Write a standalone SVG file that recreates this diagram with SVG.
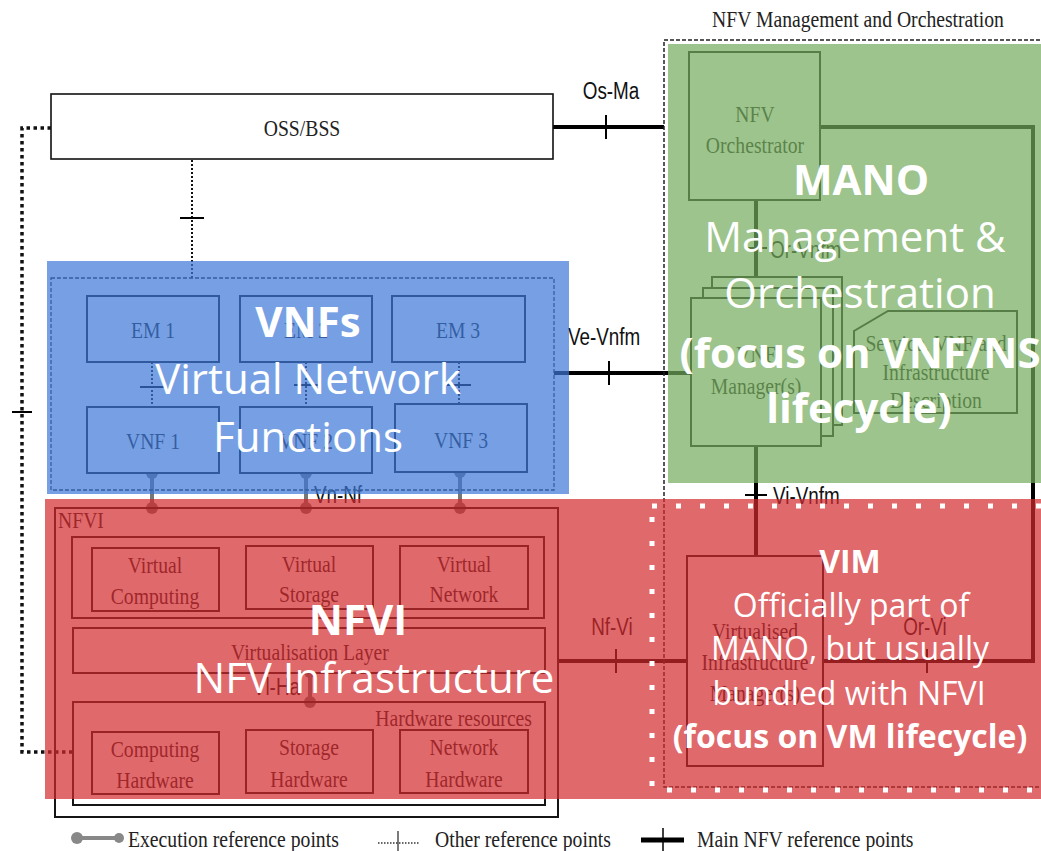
<svg xmlns="http://www.w3.org/2000/svg" width="1041" height="851" viewBox="0 0 1041 851">
<defs>
<style>
.box{fill:#fff;stroke:#151515;stroke-width:2}
.t{font-family:"Liberation Serif","Times New Roman",serif;font-size:24px;fill:#222;text-anchor:middle}
.t.s{text-anchor:start}
.t.e{text-anchor:end}
.lbl{font-family:"Liberation Sans",Arial,sans-serif;font-size:23px;fill:#111}
.lbl.m{text-anchor:middle}
.lbl.e{text-anchor:end}
.main{stroke:#000;stroke-width:4;fill:none}
.tick{stroke:#000;stroke-width:2}
.other{stroke:#111;stroke-width:2;stroke-dasharray:2 2;fill:none}
.exec{stroke:#777;stroke-width:4}
.dot{fill:#777}
.ov{font-family:"Open Sans",sans-serif;fill:#fff;text-anchor:middle}
.big{font-size:42px}
.mid{font-size:32px}
.b{font-weight:700}
</style>
</defs>
<rect width="1041" height="851" fill="#fff"/>

<!-- reference point connectors; labels use a narrowed face -->
<g id="connectors">
  <!-- Os-Ma -->
  <line class="main" x1="553" y1="127" x2="664" y2="127"/>
  <line class="tick" x1="606" y1="115" x2="606" y2="139"/>
  <text class="lbl m" transform="translate(611,99) scale(0.82,1)">Os-Ma</text>
  <!-- OSS/BSS to VNF domain -->
  <line class="other" x1="192" y1="160" x2="192" y2="278"/>
  <line class="tick" x1="180" y1="218" x2="204" y2="218"/>
  <!-- OSS/BSS to hardware resources -->
  <path d="M51,128 H22 V752 H73" fill="none" stroke="#111" stroke-width="3.5" stroke-dasharray="3.5 3.5"/>
  <line class="tick" x1="12" y1="412" x2="32" y2="412"/>
  <!-- EM to VNF -->
  <line class="other" x1="152" y1="362" x2="152" y2="407"/>
  <line class="tick" x1="140" y1="387" x2="164" y2="387"/>
  <line class="other" x1="306" y1="362" x2="306" y2="407"/>
  <line class="tick" x1="294" y1="385" x2="318" y2="385"/>
  <line class="other" x1="459" y1="362" x2="459" y2="404"/>
  <line class="tick" x1="447" y1="385" x2="471" y2="385"/>
  <!-- Ve-Vnfm -->
  <line class="main" x1="554" y1="373" x2="691" y2="373"/>
  <line class="tick" x1="609" y1="361" x2="609" y2="385"/>
  <text class="lbl" transform="translate(568,345) scale(0.82,1)">Ve-Vnfm</text>
  <!-- Or-Vnfm -->
  <line class="main" x1="756" y1="200" x2="756" y2="277" stroke-width="3.5"/>
  <line class="tick" x1="745" y1="248" x2="767" y2="248"/>
  <text class="lbl" transform="translate(770,258) scale(0.82,1)">Or-Vnfm</text>
  <!-- Or-Vi -->
  <path class="main" d="M820,127 H1033 V661 H823"/>
  <line class="tick" x1="927" y1="649" x2="927" y2="673"/>
  <text class="lbl m" transform="translate(925,635) scale(0.82,1)">Or-Vi</text>
  <!-- Vi-Vnfm -->
  <line class="main" x1="756" y1="446" x2="756" y2="556" stroke-width="3.5"/>
  <line class="tick" x1="745" y1="495" x2="767" y2="495"/>
  <text class="lbl" transform="translate(773,504) scale(0.82,1)">Vi-Vnfm</text>
  <!-- Nf-Vi -->
  <line class="main" x1="558" y1="661" x2="687" y2="661"/>
  <line class="tick" x1="616" y1="649" x2="616" y2="673"/>
  <text class="lbl m" transform="translate(612,635) scale(0.82,1)">Nf-Vi</text>
  <!-- Vn-Nf execution points -->
  <line class="exec" x1="152" y1="473" x2="152" y2="508"/>
  <circle class="dot" cx="152" cy="473" r="6"/><circle class="dot" cx="152" cy="508" r="6"/>
  <line class="exec" x1="306" y1="473" x2="306" y2="508"/>
  <circle class="dot" cx="306" cy="473" r="6"/><circle class="dot" cx="306" cy="508" r="6"/>
  <line class="exec" x1="460" y1="472" x2="460" y2="508"/>
  <circle class="dot" cx="460" cy="472" r="6"/><circle class="dot" cx="460" cy="508" r="6"/>
  <text class="lbl m" transform="translate(338,503) scale(0.82,1)">Vn-Nf</text>
  <!-- Vl-Ha execution point -->
  <line class="exec" x1="310" y1="672" x2="310" y2="702"/>
  <circle class="dot" cx="310" cy="672" r="6"/><circle class="dot" cx="310" cy="702" r="6"/>
  <text class="lbl e" transform="translate(300,695) scale(0.82,1)">Vl-Ha</text>
</g>

<g id="oss-bss">
  <rect x="51" y="94" width="502" height="65" fill="#fff" stroke="#111" stroke-width="1.6"/>
  <text class="t" transform="translate(302,136) scale(0.82,1)">OSS/BSS</text>
</g>

<g id="vnf-domain">
  <rect x="51" y="278" width="503" height="212" fill="none" stroke="#222" stroke-width="1.3" stroke-dasharray="4 2"/>
</g>
<g id="em1"><rect class="box" x="87" y="296" width="132" height="66"/><text class="t" transform="translate(153,338) scale(0.82,1)">EM 1</text></g>
<g id="em2"><rect class="box" x="240" y="296" width="132" height="66"/><text class="t" transform="translate(306,338) scale(0.82,1)">EM 2</text></g>
<g id="em3"><rect class="box" x="392" y="296" width="133" height="66"/><text class="t" transform="translate(458,338) scale(0.82,1)">EM 3</text></g>
<g id="vnf1"><rect class="box" x="87" y="407" width="132" height="66"/><text class="t" transform="translate(153,449) scale(0.82,1)">VNF 1</text></g>
<g id="vnf2"><rect class="box" x="240" y="407" width="132" height="66"/><text class="t" transform="translate(306,449) scale(0.82,1)">VNF 2</text></g>
<g id="vnf3"><rect class="box" x="395" y="404" width="132" height="68"/><text class="t" transform="translate(461,448) scale(0.82,1)">VNF 3</text></g>

<g id="nfvi">
  <rect x="55" y="508" width="503" height="309" fill="none" stroke="#151515" stroke-width="2"/>
  <text class="t s" transform="translate(58,528) scale(0.82,1)">NFVI</text>
  <rect x="72" y="537" width="472" height="81" fill="none" stroke="#151515" stroke-width="2"/>
</g>
<g id="virtual-computing"><rect class="box" x="92" y="548" width="127" height="63"/><text class="t" transform="translate(155,573) scale(0.82,1)">Virtual</text><text class="t" transform="translate(155,604) scale(0.82,1)">Computing</text></g>
<g id="virtual-storage"><rect class="box" x="246" y="546" width="127" height="63"/><text class="t" transform="translate(309,572) scale(0.82,1)">Virtual</text><text class="t" transform="translate(309,602) scale(0.82,1)">Storage</text></g>
<g id="virtual-network"><rect class="box" x="400" y="546" width="128" height="63"/><text class="t" transform="translate(464,572) scale(0.82,1)">Virtual</text><text class="t" transform="translate(464,602) scale(0.82,1)">Network</text></g>
<g id="virtualisation-layer"><rect class="box" x="73" y="628" width="472" height="45"/><text class="t" transform="translate(310,660) scale(0.82,1)">Virtualisation Layer</text></g>
<g id="hardware-resources"><rect x="73" y="702" width="472" height="103" fill="none" stroke="#151515" stroke-width="2"/><text class="t e" transform="translate(532,726) scale(0.82,1)">Hardware resources</text></g>
<g id="computing-hardware"><rect class="box" x="92" y="732" width="127" height="62"/><text class="t" transform="translate(155,757) scale(0.82,1)">Computing</text><text class="t" transform="translate(155,788) scale(0.82,1)">Hardware</text></g>
<g id="storage-hardware"><rect class="box" x="246" y="730" width="127" height="63"/><text class="t" transform="translate(309,755) scale(0.82,1)">Storage</text><text class="t" transform="translate(309,787) scale(0.82,1)">Hardware</text></g>
<g id="network-hardware"><rect class="box" x="400" y="730" width="128" height="63"/><text class="t" transform="translate(464,755) scale(0.82,1)">Network</text><text class="t" transform="translate(464,787) scale(0.82,1)">Hardware</text></g>

<g id="mano">
  <rect x="664" y="40" width="420" height="747" fill="none" stroke="#222" stroke-width="1.5" stroke-dasharray="4 2"/>
  <text class="t" transform="translate(858,27) scale(0.82,1)">NFV Management and Orchestration</text>
</g>
<g id="nfv-orchestrator"><rect class="box" x="689" y="52" width="131" height="148"/><text class="t" transform="translate(755,122) scale(0.82,1)">NFV</text><text class="t" transform="translate(755,153) scale(0.82,1)">Orchestrator</text></g>
<g id="vnf-manager">
  <rect class="box" x="712" y="277" width="130" height="148"/>
  <rect class="box" x="703" y="288" width="130" height="148"/>
  <rect class="box" x="691" y="298" width="130" height="148"/>
  <text class="t" transform="translate(756,362) scale(0.82,1)">VNF</text><text class="t" transform="translate(756,394) scale(0.82,1)">Manager(s)</text>
</g>
<g id="service-catalogue">
  <polygon class="box" points="888,311 1017,311 1017,413 854,413 854,331"/>
  <text class="t" transform="translate(936,351) scale(0.82,1)">Service, VNF and</text><text class="t" transform="translate(936,380) scale(0.82,1)">Infrastructure</text><text class="t" transform="translate(936,408) scale(0.82,1)">Description</text>
</g>
<g id="vim"><rect class="box" x="687" y="556" width="136" height="210"/><text class="t" transform="translate(755,639) scale(0.82,1)">Virtualised</text><text class="t" transform="translate(755,670) scale(0.82,1)">Infrastructure</text><text class="t" transform="translate(755,701) scale(0.82,1)">Manager(s)</text></g>

<g id="legend">
  <line x1="77" y1="838" x2="119" y2="838" stroke="#888" stroke-width="4"/>
  <circle cx="77" cy="838" r="6" fill="#888"/><circle cx="119" cy="838" r="5" fill="#888"/>
  <text class="t s" transform="translate(128,847) scale(0.82,1)">Execution reference points</text>
  <line x1="378" y1="843" x2="420" y2="843" stroke="#333" stroke-width="1.3" stroke-dasharray="1.5 1.5"/>
  <line x1="398" y1="831" x2="398" y2="851" stroke="#333" stroke-width="1.3"/>
  <text class="t s" transform="translate(435,847) scale(0.82,1)">Other reference points</text>
  <line x1="641" y1="840" x2="684" y2="840" stroke="#000" stroke-width="5"/>
  <line x1="663" y1="828" x2="663" y2="851" stroke="#000" stroke-width="1.5"/>
  <text class="t s" transform="translate(697,847) scale(0.82,1)">Main NFV reference points</text>
</g>

<!-- coloured domain highlights -->
<g id="highlights">
  <rect x="47" y="261" width="522" height="233" fill="rgb(60,120,215)" fill-opacity="0.7"/>
  <rect x="668" y="44" width="373" height="439" fill="rgb(115,171,91)" fill-opacity="0.7"/>
  <rect x="45" y="499" width="996" height="300" fill="rgb(211,42,45)" fill-opacity="0.7"/>
  <rect x="652" y="506" width="420" height="284" fill="none" stroke="#fff" stroke-width="5" stroke-dasharray="5 19"/>
</g>

<g id="vnfs-note">
  <text class="ov big b" x="308" y="337">VNFs</text>
  <text class="ov big" x="308" y="394">Virtual Network</text>
  <text class="ov big" x="308" y="452">Functions</text>
</g>
<g id="mano-note">
  <text class="ov big b" x="861" y="195">MANO</text>
  <text class="ov big" x="855" y="252">Management &amp;</text>
  <text class="ov big" x="860" y="308">Orchestration</text>
  <text class="ov big b" x="860" y="368">(focus on VNF/NS</text>
  <text class="ov big b" x="859" y="423">lifecycle)</text>
</g>
<g id="nfvi-note">
  <text class="ov big b" x="358" y="635">NFVI</text>
  <text class="ov big" x="374" y="693">NFV Infrastructure</text>
</g>
<g id="vim-note">
  <text class="ov mid b" x="850" y="573">VIM</text>
  <text class="ov mid" x="851" y="617">Officially part of</text>
  <text class="ov mid" x="850" y="660">MANO, but usually</text>
  <text class="ov mid" x="849" y="705">bundled with NFVI</text>
  <text class="ov mid b" x="850" y="748">(focus on VM lifecycle)</text>
</g>
</svg>
